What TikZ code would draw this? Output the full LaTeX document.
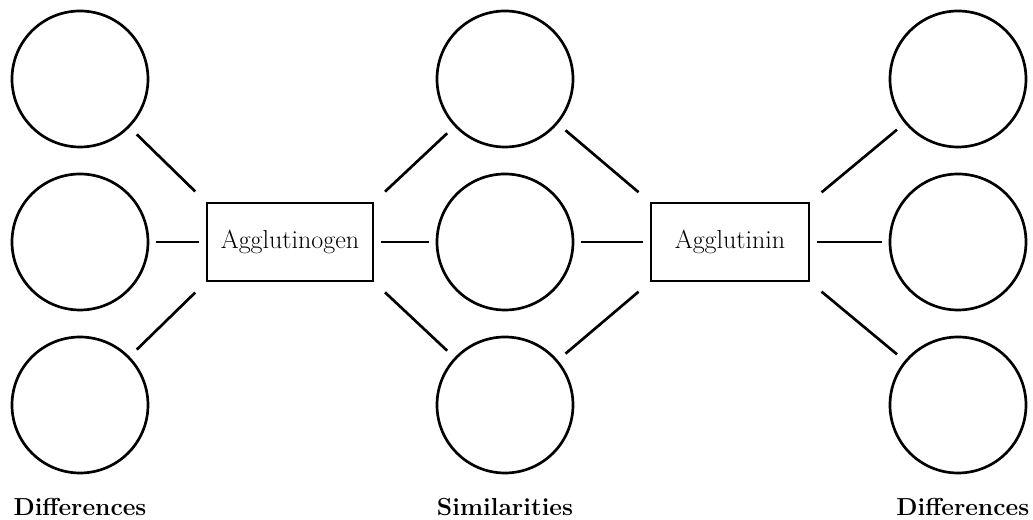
\documentclass[tikz,border=0pt]{standalone}
\usepackage{tikz}
\usetikzlibrary{positioning}
\tikzstyle{circ}=[draw,circle,line width=1.9pt,minimum size=3.4cm,inner sep=0pt]
\tikzstyle{box}=[draw,rectangle,line width=1.7pt,minimum height=1.95cm,font=\fontsize{18.5}{22}\selectfont]
\tikzstyle{lbl}=[font=\bfseries\fontsize{17.5}{21}\selectfont]
\tikzstyle{link}=[line width=1.9pt,shorten <=.16cm,shorten >=.17cm]
\tikzstyle{dlink}=[line width=1.9pt,shorten <=.25cm,shorten >=.37cm]

\begin{document}
\begin{tikzpicture}[node distance=4.075cm, on grid]
  \useasboundingbox (-12.625,-6.95) rectangle (13.2,6.05);

  \node[circ] (m2) {};
  \node[circ, above=of m2] (m1) {};
  \node[circ, below=of m2] (m3) {};

  \node[box, minimum width=4.15cm, left=5.375cm of m2] (gen) {Agglutinogen};
  \node[box, minimum width=3.95cm, right=5.625cm of m2] (tin) {Agglutinin};

  \node[circ, left=10.625cm of m2] (l2) {};
  \node[circ, above=of l2] (l1) {};
  \node[circ, below=of l2] (l3) {};

  \node[circ, right=11.325cm of m2] (r2) {};
  \node[circ, above=of r2] (r1) {};
  \node[circ, below=of r2] (r3) {};

  \node[lbl, below=2.55cm of l3] (dl) {Differences};
  \node[lbl, below=2.55cm of m3] (sim) {Similarities};
  \node[lbl, below=2.55cm of r3, xshift=.12cm] (dr) {Differences};

  \draw[dlink] (l1) -- (gen.north west);
  \draw[link] (l2) -- (gen);
  \draw[dlink] (l3) -- (gen.south west);

  \draw[dlink] (m1) -- (gen.north east);
  \draw[link] (m2) -- (gen);
  \draw[dlink] (m3) -- (gen.south east);
  \draw[dlink] (m1) -- (tin.north west);
  \draw[link] (m2) -- (tin);
  \draw[dlink] (m3) -- (tin.south west);

  \draw[dlink] (r1) -- (tin.north east);
  \draw[link] (r2) -- (tin);
  \draw[dlink] (r3) -- (tin.south east);
\end{tikzpicture}
\end{document}
